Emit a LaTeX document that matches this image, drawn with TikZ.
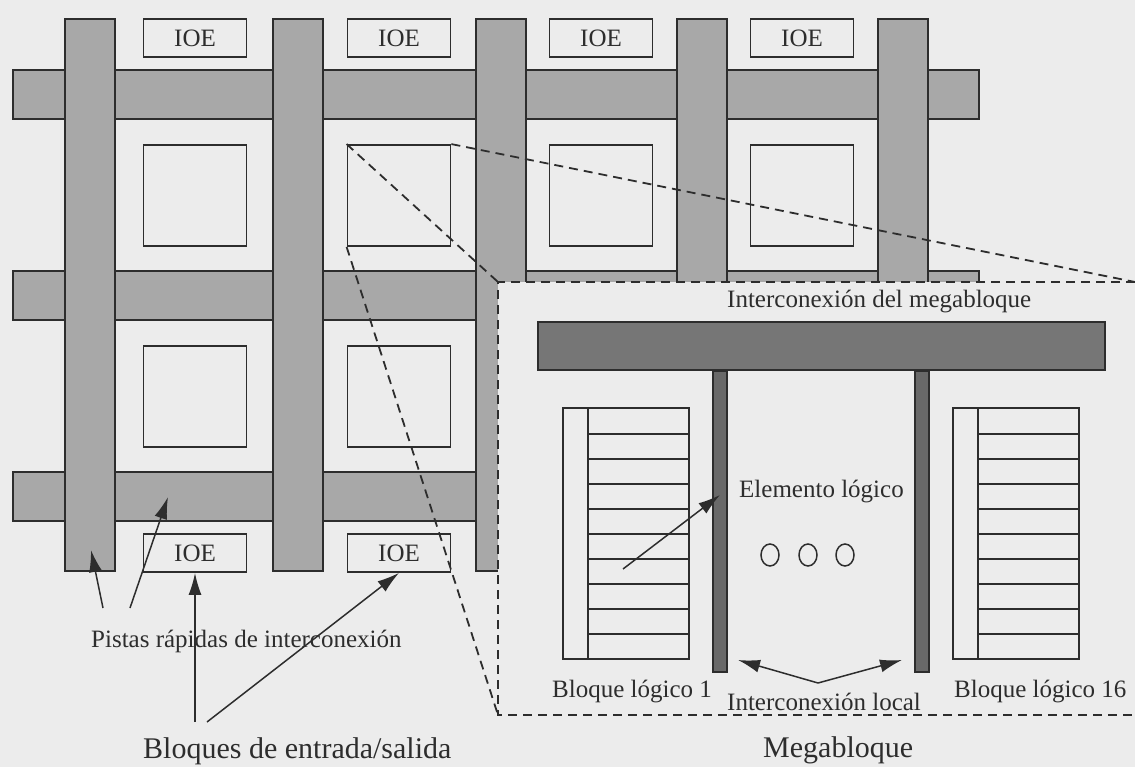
\documentclass[tikz,border=0pt]{standalone}
\usepackage{fontspec}
\setmainfont{Liberation Serif}
\usetikzlibrary{arrows.meta}
\definecolor{bg}{RGB}{236,236,236}
\definecolor{barc}{RGB}{168,168,168}
\definecolor{darkbar}{RGB}{118,118,118}
\definecolor{thinbar}{RGB}{105,105,105}
\definecolor{ink}{RGB}{45,45,45}
\begin{document}
\begin{tikzpicture}[x=1pt,y=-1pt,
  barstyle/.style={draw=ink,line width=2pt,fill=barc},
  boxstyle/.style={draw=ink,line width=1.8pt,fill=bg,inner sep=0pt,
     minimum width=103pt,font=\fontsize{25}{30}\selectfont,text=ink},
  ioestyle/.style={boxstyle,minimum height=38pt},
  sqstyle/.style={boxstyle,minimum height=101pt},
  zoomline/.style={draw=ink,line width=1.8pt,dash pattern=on 9pt off 6pt},
  lbl/.style={inner sep=0pt,anchor=base west,font=\fontsize{25}{30}\selectfont,text=ink},
  biglbl/.style={lbl,font=\fontsize{30}{36}\selectfont},
  arr/.style={draw=ink,line width=1.5pt,-{Latex[length=22pt,width=13pt]}},
  thinline/.style={draw=ink,line width=1.5pt},
]
\useasboundingbox (0,0) rectangle (1135,767);
\fill[bg] (0,0) rectangle (1135,767);

% horizontal interconnect bars
\foreach \y in {70,271,472}{
  \draw[barstyle] (13,\y) rectangle (979,\y+49);
}
% vertical interconnect bars
\foreach \x in {65,273,476,677,878}{
  \draw[barstyle] (\x,19) rectangle (\x+50,571);
}

% IOE boxes and logic squares
\node[ioestyle] (ioeT1) at (195,38) {IOE};
\node[ioestyle] (ioeT2) at (399,38) {IOE};
\node[ioestyle] (ioeT3) at (601,38) {IOE};
\node[ioestyle] (ioeT4) at (802,38) {IOE};
\node[sqstyle] (sqA1) at (195,195.5) {};
\node[sqstyle] (sqA2) at (399,195.5) {};
\node[sqstyle] (sqA3) at (601,195.5) {};
\node[sqstyle] (sqA4) at (802,195.5) {};
\node[sqstyle] (sqB1) at (195,396.5) {};
\node[sqstyle] (sqB2) at (399,396.5) {};
\node[ioestyle] (ioeB1) at (195,553) {IOE};
\node[ioestyle] (ioeB2) at (399,553) {IOE};

% inset corners
\coordinate (inTL) at (498,282);
\coordinate (inTR) at (1135,282);
\coordinate (inBL) at (498,715);
\coordinate (inBR) at (1135,715);

% zoom lines
\draw[zoomline] (sqA2.north west) -- (inTL);
\draw[zoomline] (sqA2.north east) -- (inTR);
\draw[zoomline] (sqA2.south west) -- (inBL);

% inset
\fill[bg] (inTL) rectangle (1140,715);
\draw[zoomline] (inTR) -- (inTL) -- (inBL) -- (inBR);

\node[lbl] (tMega) at (727,308) {Interconexión del megabloque};
\draw[draw=ink,line width=1.8pt,fill=darkbar] (538,322) rectangle (1105,370);
\node[draw=ink,line width=1.4pt,fill=thinbar,inner sep=0pt,minimum width=14pt,minimum height=301pt] (tb1) at (720,521.5) {};
\node[draw=ink,line width=1.4pt,fill=thinbar,inner sep=0pt,minimum width=14pt,minimum height=301pt] (tb2) at (922,521.5) {};

% logic blocks
\foreach \xl/\xd in {563/588,953/978}{
  \draw[thinline] (\xl,408) rectangle (\xl+126,659);
  \draw[thinline] (\xd,408) -- (\xd,659);
  \foreach \yy in {434,459,484,509,534,559,584,609,634}{
    \draw[thinline] (\xd,\yy) -- (\xl+126,\yy);
  }
}

% dots
\foreach \x in {770,808,845}{
  \draw[ink,line width=1.5pt] (\x,555) ellipse [x radius=9pt,y radius=11pt];
}

\node[lbl] (tElem) at (739,497) {Elemento lógico};
\coordinate (eS) at (623,569);
\coordinate (eT) at (720,495);
\draw[arr] (eS) -- (eT);

\node[lbl] (tB1) at (552,697) {Bloque lógico 1};
\node[lbl] (tB16) at (954,697) {Bloque lógico 16};
\node[lbl] (tLocal) at (727,710) {Interconexión local};
\coordinate (apex) at (818,683);
\coordinate (lT1) at (738,660);
\coordinate (lT2) at (902,660);
\draw[arr] (apex) -- (lT1);
\draw[arr] (apex) -- (lT2);

\node[biglbl] (tMegab) at (763,757) {Megabloque};

% left labels
\node[lbl] (tPistas) at (91,647) {Pistas rápidas de interconexión};
\coordinate (pS1) at (103,608);
\coordinate (pT1) at (91,550);
\coordinate (pS2) at (130,608);
\coordinate (pT2) at (168,497);
\draw[arr] (pS1) -- (pT1);
\draw[arr] (pS2) -- (pT2);

\node[biglbl] (tBloques) at (143,758) {Bloques de entrada/salida};
\coordinate (bS1) at (195,722);
\coordinate (bS2) at (207,722);
\draw[arr] (bS1) -- (ioeB1.south);
\draw[arr] (bS2) -- (ioeB2.south);
\end{tikzpicture}
\end{document}
